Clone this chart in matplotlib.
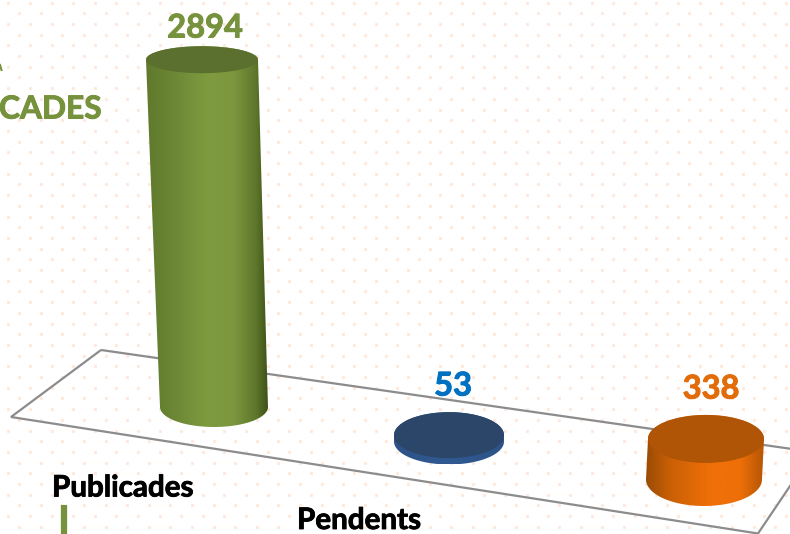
import numpy as np
import matplotlib
matplotlib.use("Agg")
import matplotlib.pyplot as plt
import matplotlib.patheffects as pe
from matplotlib.colors import LinearSegmentedColormap
from matplotlib.patches import Ellipse, PathPatch, Polygon
from matplotlib.path import Path

# data
categories = ["Publicades", "Pendents", "Third"]
values = [2894, 53, 338]

# layout (pixels)
W, H = 790, 534
PX_PER_UNIT = 0.12
base_x = [214, 449, 704]
base_y = [407, 441.5, 479.5]
top_shift = [-12, 0, 2]
half_w_top = [56, 55, 58]
half_w_base = [54, 55, 58]
semi_top = [13.5, 23, 24]
semi_base = [20, 23, 26.5]
label_xy = [(205, 28), (453, 386), (711, 389)]
label_colors = ["#76923C", "#0070C0", "#E36C0A"]
top_colors = ["#5B6F2E", "#2B4669", "#B05405"]
side_stops = [
    [(0, "#5F7A2C"), (0.2, "#6A8534"), (0.5, "#7F9B40"), (0.72, "#7C973E"), (0.9, "#5E772C"), (1, "#3F5218")],
    [(0, "#2C5286"), (0.5, "#315A93"), (1, "#2C5286")],
    [(0, "#9A4B05"), (0.2, "#C96005"), (0.55, "#F07008"), (0.8, "#EE6F08"), (1, "#B55605")],
]
text_labels = [("Publicades", 52, 487.5), ("Pendents", 297, 520)]

plt.rcParams["font.family"] = ["Lato", "DejaVu Sans"]
fig = plt.figure(figsize=(W / 100, H / 100), dpi=100, facecolor="white")
ax = fig.add_axes([0, 0, 1, 1])
ax.set_xlim(0, W)
ax.set_ylim(H, 0)
ax.axis("off")

# dotted background
dx, dy = 21.6, 10.7
xs, ys = [], []
for r in range(52):
    off = 8.4 if r % 2 == 0 else 19.2
    for c in range(38):
        xs.append(off + c * dx)
        ys.append(2.5 + r * dy)
ax.scatter(xs, ys, s=6, color="#FDE9DD", linewidths=0, zorder=1)

# floor
floor = [(101, 350), (813, 452), (758, 533.5), (11, 417)]
ax.add_patch(Polygon(floor, closed=True, fill=False, edgecolor="#8C8C8C", lw=1.6, zorder=2))


def arc(cx, cy, a, b, t0, t1, n=60):
    t = np.linspace(t0, t1, n)
    return np.column_stack([cx + a * np.cos(t), cy + b * np.sin(t)])


for i, v in enumerate(values):
    bx, by = base_x[i], base_y[i]
    tx, ty = bx + top_shift[i], by - v * PX_PER_UNIT
    lower = arc(bx, by, half_w_base[i], semi_base[i], np.pi, 0)
    upper = arc(tx, ty, half_w_top[i], semi_top[i], 0, -np.pi)
    verts = np.vstack([lower, upper, lower[:1]])
    path = Path(verts)
    cmap = LinearSegmentedColormap.from_list(f"side{i}", side_stops[i])
    grad = np.linspace(0, 1, 256).reshape(1, -1)
    left = min(bx - half_w_base[i], tx - half_w_top[i])
    right = max(bx + half_w_base[i], tx + half_w_top[i])
    patch = PathPatch(path, facecolor="none", edgecolor="none", zorder=3)
    ax.add_patch(patch)
    im = ax.imshow(grad, cmap=cmap, extent=[left, right, by + semi_base[i], ty - semi_top[i]],
                   aspect="auto", zorder=3, interpolation="bilinear")
    im.set_clip_path(patch)
    ax.add_patch(Ellipse((tx, ty), 2 * half_w_top[i], 2 * semi_top[i],
                         facecolor=top_colors[i], edgecolor="none", zorder=4))
    ax.text(label_xy[i][0], label_xy[i][1], str(v), color=label_colors[i], fontsize=23.5,
            fontweight="bold", ha="center", va="center", zorder=5,
            path_effects=[pe.withStroke(linewidth=0.7, foreground=label_colors[i])])

ax.set_xlim(0, W)
ax.set_ylim(H, 0)

ax.text(-1, 109, "CADES", color="#76923C", fontsize=22.8, fontweight="bold",
        ha="left", va="center", zorder=5,
        path_effects=[pe.withStroke(linewidth=0.7, foreground="#76923C")])
ax.plot([0, 1.5], [65, 70], color="#76923C", lw=1.5, zorder=5)
for s, x, y in text_labels:
    ax.text(x, y, s, color="black", fontsize=21.3, fontweight="bold", ha="left", va="center", zorder=5,
            path_effects=[pe.withStroke(linewidth=0.6, foreground="black")])
ax.plot([64, 64], [505, 534], color="#76923C", lw=4.5, solid_capstyle="butt", zorder=5)

fig.savefig("out.png", dpi=100, facecolor="white")
